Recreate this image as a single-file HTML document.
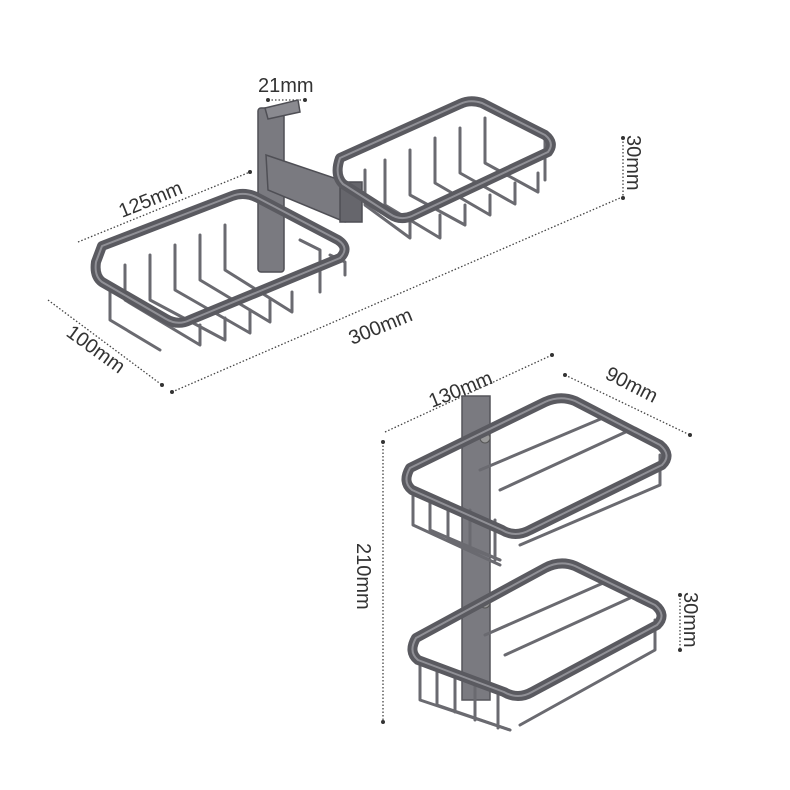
<!DOCTYPE html>
<html><head><style>body{margin:0;background:#fff}svg{display:block}text{font-family:"Liberation Sans",sans-serif;fill:#333;font-size:20px}</style></head>
<body>
<svg width="790" height="790" viewBox="0 0 790 790" xmlns="http://www.w3.org/2000/svg">
<g stroke="#444" stroke-width="1.3" stroke-dasharray="1.5 2" fill="none">
<line x1="268" y1="100" x2="305" y2="100"/>
<line x1="78" y1="242" x2="250" y2="172"/>
<line x1="623" y1="138" x2="623" y2="198"/>
<line x1="172" y1="392" x2="620" y2="198"/>
<line x1="48" y1="300" x2="162" y2="385"/>
<line x1="385" y1="432" x2="552" y2="355"/>
<line x1="565" y1="375" x2="690" y2="435"/>
<line x1="383" y1="442" x2="383" y2="722"/>
<line x1="680" y1="595" x2="680" y2="650"/>
</g>
<g fill="#333">
<circle cx="268" cy="100" r="2"/><circle cx="305" cy="100" r="2"/>
<circle cx="250" cy="172" r="2"/><circle cx="623" cy="138" r="2"/><circle cx="623" cy="198" r="2"/>
<circle cx="172" cy="392" r="2"/><circle cx="162" cy="385" r="2"/>
<circle cx="552" cy="355" r="2"/><circle cx="565" cy="375" r="2"/><circle cx="690" cy="435" r="2"/>
<circle cx="383" cy="442" r="2"/><circle cx="383" cy="722" r="2"/><circle cx="680" cy="595" r="2"/><circle cx="680" cy="650" r="2"/>
</g>
<text x="258" y="92">21mm</text>
<text transform="translate(122,218) rotate(-22)">125mm</text>
<text transform="translate(627,135) rotate(90)">30mm</text>
<text transform="translate(352,345) rotate(-22)">300mm</text>
<text transform="translate(65,335) rotate(36)">100mm</text>
<text transform="translate(432,408) rotate(-22)">130mm</text>
<text transform="translate(604,378) rotate(27)">90mm</text>
<text transform="translate(357,543) rotate(90)">210mm</text>
<text transform="translate(684,592) rotate(90)">30mm</text>

<g fill="#7a7a80" stroke="#4f4f55" stroke-width="1.5">
<rect x="258" y="108" width="26" height="164" rx="3"/>
<path d="M266 155 L355 185 L358 220 L345 222 L268 190 Z"/>
<rect x="340" y="182" width="22" height="40" fill="#66666c"/>
<path d="M265 108 L298 100 L300 112 L268 119 Z" fill="#8a8a90"/>
</g>
<g fill="none" stroke-linejoin="round" stroke-linecap="round">
<g stroke="#6a6a70" stroke-width="3">
<path d="M110 290 L110 320 L160 350"/><path d="M125 265 L125 300 L200 345 L200 325"/>
<path d="M150 255 L150 300 L225 340 L225 318"/><path d="M175 245 L175 290 L250 333 L250 310"/>
<path d="M200 235 L200 280 L270 322 L270 300"/><path d="M225 225 L225 270 L292 312 L292 292"/>
<path d="M300 240 L320 250 L320 292"/><path d="M330 255 L345 262 L345 275"/>
</g>
<path d="M102 246 L232 196 Q245 191 258 198 L338 240 Q350 248 340 258 L190 320 Q178 326 166 319 L102 282 Q94 276 96 262 Z" stroke="#5a5a60" stroke-width="10"/>
<path d="M102 246 L232 196 Q245 191 258 198 L338 240 Q350 248 340 258 L190 320 Q178 326 166 319 L102 282 Q94 276 96 262 Z" stroke="#909096" stroke-width="2"/>
<g stroke="#6a6a70" stroke-width="3">
<path d="M365 170 L365 205 L410 238 L410 220"/><path d="M385 160 L385 205 L440 238 L440 215"/>
<path d="M410 150 L410 195 L465 225 L465 205"/><path d="M435 138 L435 183 L490 215 L490 195"/>
<path d="M460 128 L460 173 L515 204 L515 183"/><path d="M485 118 L485 163 L538 192 L538 173"/>
<path d="M520 120 L545 135 L545 180"/>
</g>
<path d="M340 158 L460 104 Q470 99 482 103 L545 135 Q555 143 548 152 L412 216 Q400 221 390 214 L343 184 Q334 175 340 158 Z" stroke="#5a5a60" stroke-width="10"/>
<path d="M340 158 L460 104 Q470 99 482 103 L545 135 Q555 143 548 152 L412 216 Q400 221 390 214 L343 184 Q334 175 340 158 Z" stroke="#909096" stroke-width="2"/>
</g>

<rect x="462" y="396" width="28" height="304" fill="#7a7a80" stroke="#55555a" stroke-width="1.5"/>
<circle cx="485" cy="438" r="5" fill="#999" stroke="#555"/><circle cx="485" cy="603" r="5" fill="#999" stroke="#555"/>
<g fill="none" stroke-linejoin="round" stroke-linecap="round">
<g stroke="#6a6a70" stroke-width="3">
<path d="M413 490 L413 525 L500 565"/><path d="M430 495 L430 530 L500 560"/>
<path d="M448 502 L448 540 L500 560"/><path d="M470 510 L470 550"/><path d="M495 520 L495 560"/>
<path d="M520 545 L660 485 L660 455"/><path d="M480 470 L610 415"/><path d="M500 490 L630 430"/>
<path d="M420 660 L420 700 L510 730"/><path d="M437 665 L437 705 L510 730"/>
<path d="M455 672 L455 712"/><path d="M475 680 L475 720"/><path d="M498 688 L498 728"/>
<path d="M520 725 L655 650 L655 620"/><path d="M485 635 L610 580"/><path d="M505 655 L630 598"/>
</g>
<path d="M410 468 L545 402 Q560 395 575 401 L660 445 Q672 455 662 465 L530 530 Q515 538 502 530 L412 490 Q402 482 410 468 Z" stroke="#5a5a60" stroke-width="10"/>
<path d="M410 468 L545 402 Q560 395 575 401 L660 445 Q672 455 662 465 L530 530 Q515 538 502 530 L412 490 Q402 482 410 468 Z" stroke="#909096" stroke-width="2"/>
<path d="M416 638 L545 568 Q560 560 575 566 L655 605 Q667 615 657 625 L532 692 Q518 700 504 692 L418 660 Q408 652 416 638 Z" stroke="#5a5a60" stroke-width="10"/>
<path d="M416 638 L545 568 Q560 560 575 566 L655 605 Q667 615 657 625 L532 692 Q518 700 504 692 L418 660 Q408 652 416 638 Z" stroke="#909096" stroke-width="2"/>
</g>
</svg>
</body></html>
